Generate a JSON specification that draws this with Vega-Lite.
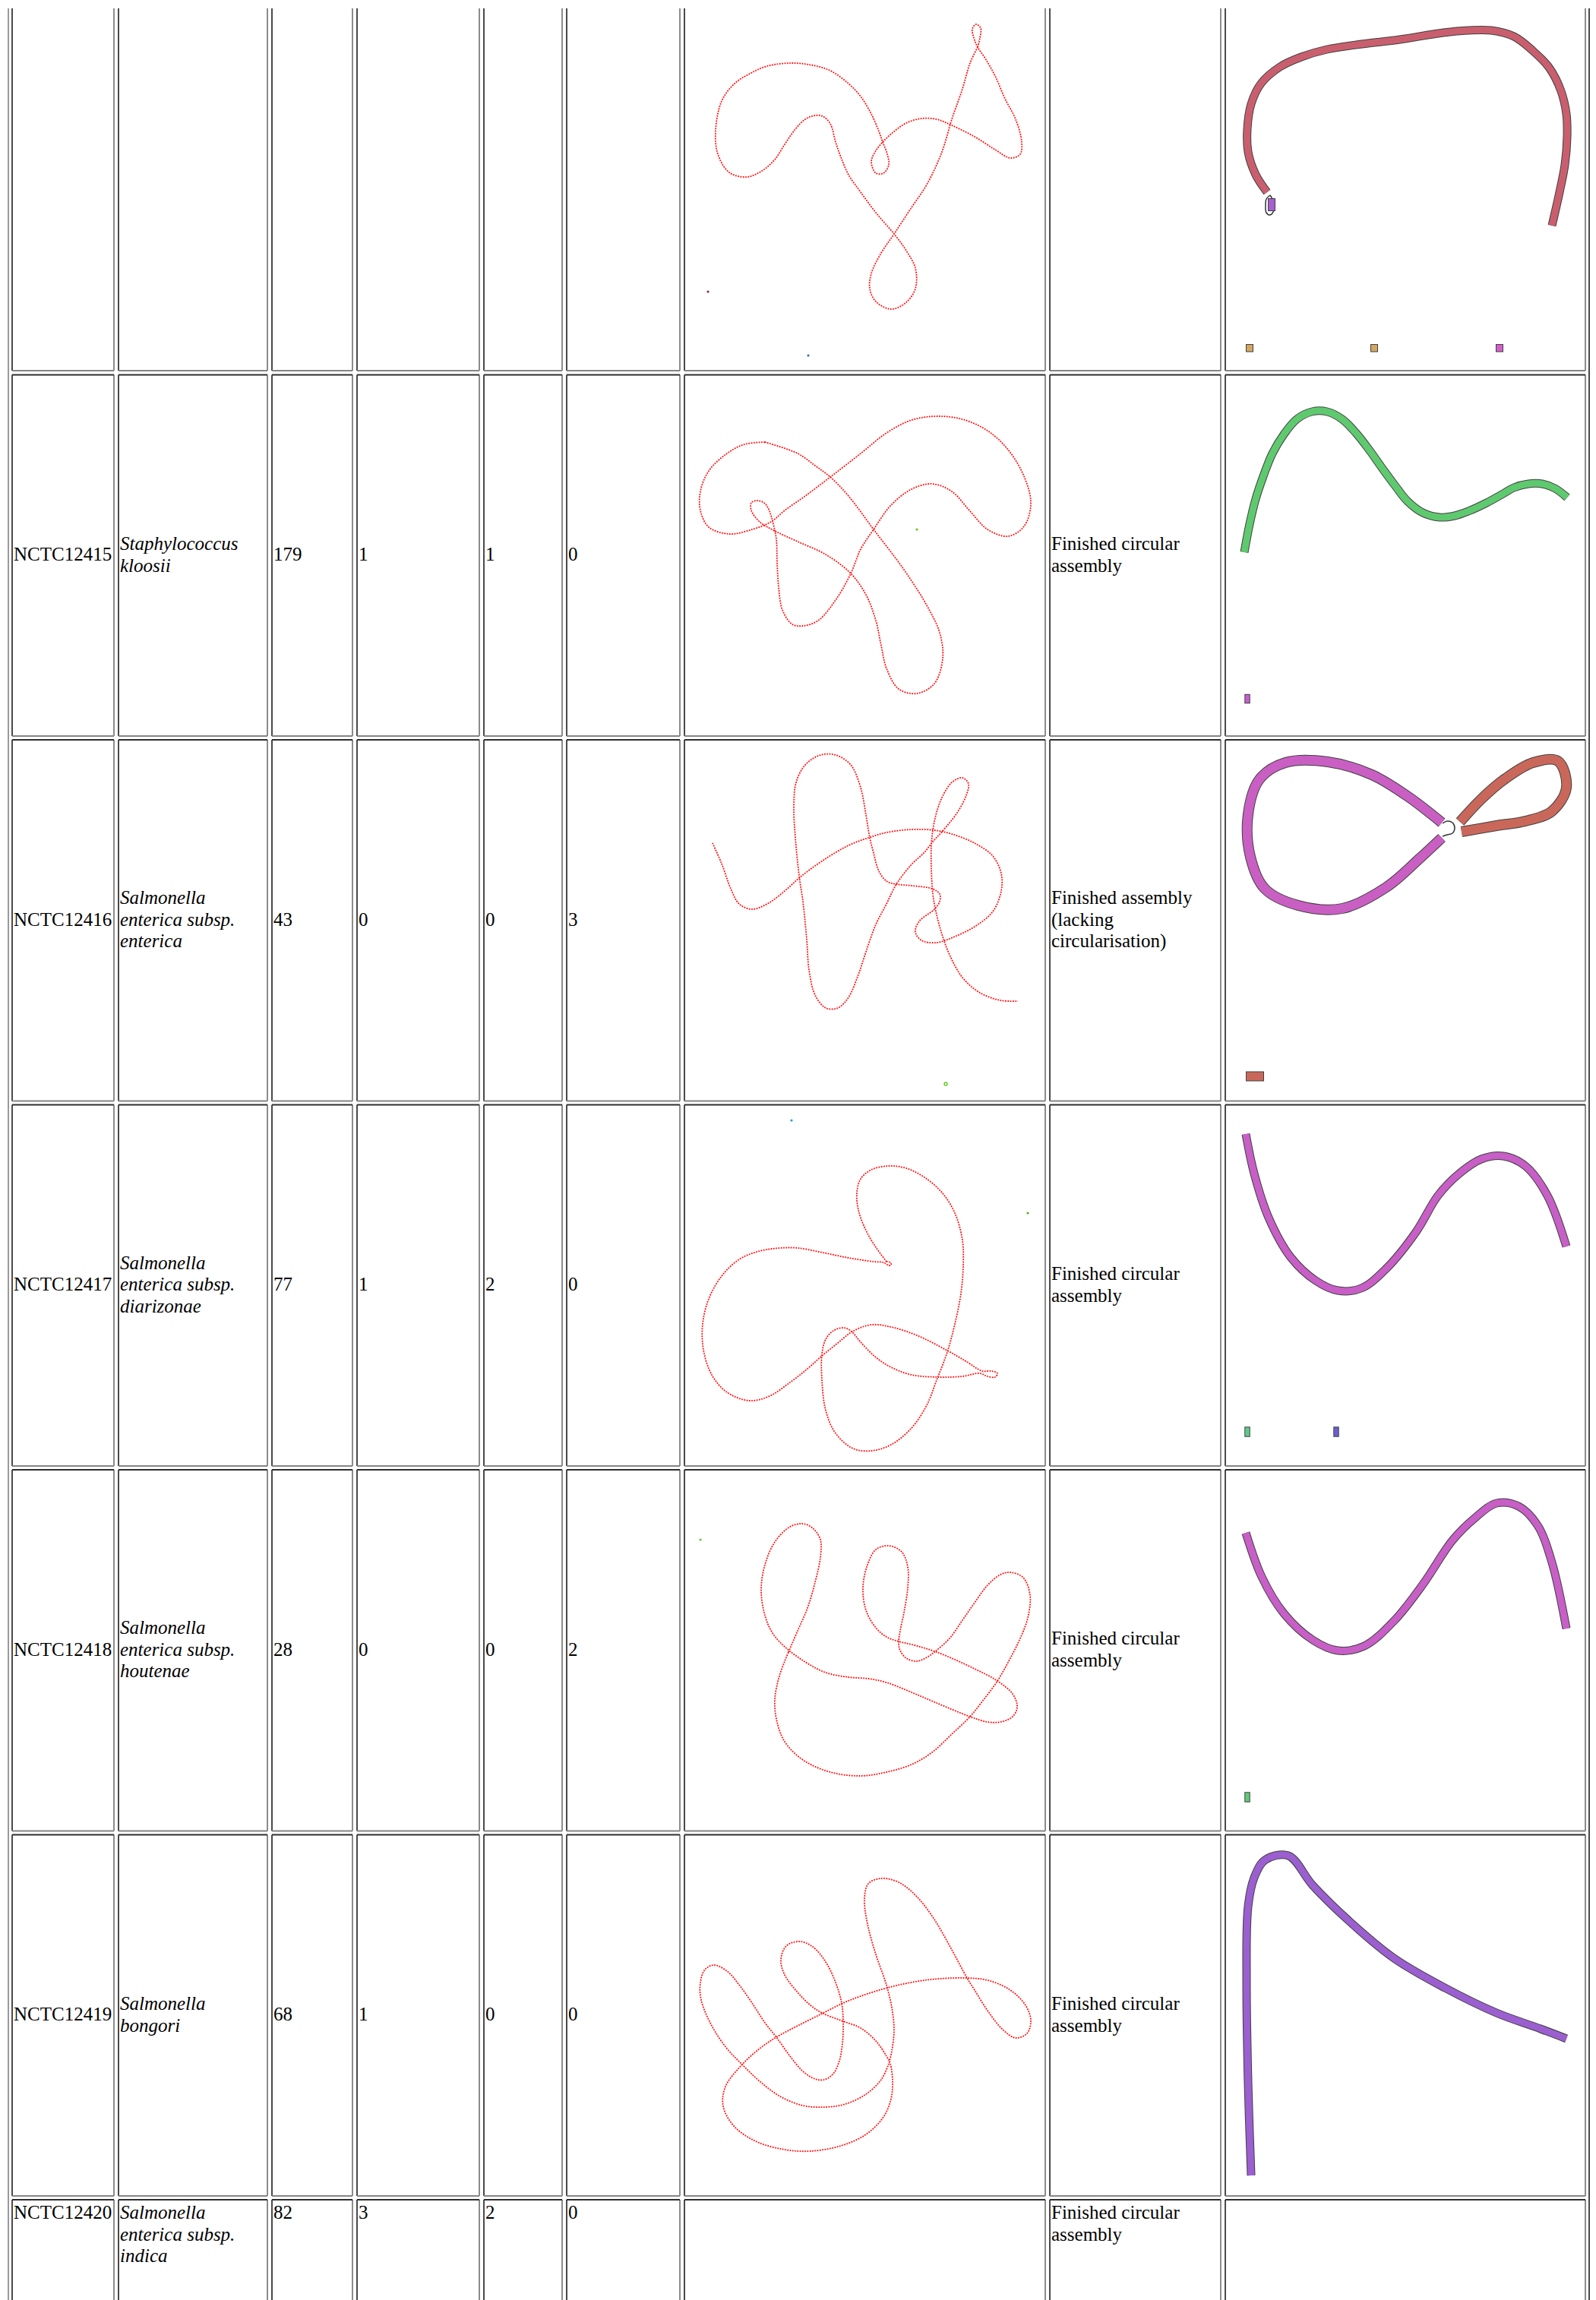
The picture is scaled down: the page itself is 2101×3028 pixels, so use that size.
{
"$schema": "https://vega.github.io/schema/vega-lite/v6.json",
"width": 2101, "height": 3028, "padding": 0, "autosize": {"type": "none"},
"background": "white",
"config": {"view": {"stroke": null}},
"datasets": {
"cells": [
{"xl":1,"xr":2,"yt":0,"yb":1},{"xl":3,"xr":4,"yt":0,"yb":1},{"xl":5,"xr":6,"yt":0,"yb":1},{"xl":7,"xr":8,"yt":0,"yb":1},{"xl":9,"xr":10,"yt":0,"yb":1},{"xl":11,"xr":12,"yt":0,"yb":1},{"xl":13,"xr":14,"yt":0,"yb":1},{"xl":15,"xr":16,"yt":0,"yb":1},{"xl":17,"xr":18,"yt":0,"yb":1},
{"xl":1,"xr":2,"yt":2,"yb":4},{"xl":3,"xr":4,"yt":2,"yb":4},{"xl":5,"xr":6,"yt":2,"yb":4},{"xl":7,"xr":8,"yt":2,"yb":4},{"xl":9,"xr":10,"yt":2,"yb":4},{"xl":11,"xr":12,"yt":2,"yb":4},{"xl":13,"xr":14,"yt":2,"yb":4},{"xl":15,"xr":16,"yt":2,"yb":4},{"xl":17,"xr":18,"yt":2,"yb":4},
{"xl":1,"xr":2,"yt":5,"yb":7},{"xl":3,"xr":4,"yt":5,"yb":7},{"xl":5,"xr":6,"yt":5,"yb":7},{"xl":7,"xr":8,"yt":5,"yb":7},{"xl":9,"xr":10,"yt":5,"yb":7},{"xl":11,"xr":12,"yt":5,"yb":7},{"xl":13,"xr":14,"yt":5,"yb":7},{"xl":15,"xr":16,"yt":5,"yb":7},{"xl":17,"xr":18,"yt":5,"yb":7},
{"xl":1,"xr":2,"yt":8,"yb":10},{"xl":3,"xr":4,"yt":8,"yb":10},{"xl":5,"xr":6,"yt":8,"yb":10},{"xl":7,"xr":8,"yt":8,"yb":10},{"xl":9,"xr":10,"yt":8,"yb":10},{"xl":11,"xr":12,"yt":8,"yb":10},{"xl":13,"xr":14,"yt":8,"yb":10},{"xl":15,"xr":16,"yt":8,"yb":10},{"xl":17,"xr":18,"yt":8,"yb":10},
{"xl":1,"xr":2,"yt":11,"yb":13},{"xl":3,"xr":4,"yt":11,"yb":13},{"xl":5,"xr":6,"yt":11,"yb":13},{"xl":7,"xr":8,"yt":11,"yb":13},{"xl":9,"xr":10,"yt":11,"yb":13},{"xl":11,"xr":12,"yt":11,"yb":13},{"xl":13,"xr":14,"yt":11,"yb":13},{"xl":15,"xr":16,"yt":11,"yb":13},{"xl":17,"xr":18,"yt":11,"yb":13},
{"xl":1,"xr":2,"yt":14,"yb":16},{"xl":3,"xr":4,"yt":14,"yb":16},{"xl":5,"xr":6,"yt":14,"yb":16},{"xl":7,"xr":8,"yt":14,"yb":16},{"xl":9,"xr":10,"yt":14,"yb":16},{"xl":11,"xr":12,"yt":14,"yb":16},{"xl":13,"xr":14,"yt":14,"yb":16},{"xl":15,"xr":16,"yt":14,"yb":16},{"xl":17,"xr":18,"yt":14,"yb":16},
{"xl":1,"xr":2,"yt":17,"yb":19},{"xl":3,"xr":4,"yt":17,"yb":19},{"xl":5,"xr":6,"yt":17,"yb":19},{"xl":7,"xr":8,"yt":17,"yb":19},{"xl":9,"xr":10,"yt":17,"yb":19},{"xl":11,"xr":12,"yt":17,"yb":19},{"xl":13,"xr":14,"yt":17,"yb":19},{"xl":15,"xr":16,"yt":17,"yb":19},{"xl":17,"xr":18,"yt":17,"yb":19}
],
"outer": [{"xi":0,"y0":0,"y1":19,"side":"l"},{"xi":19,"y0":0,"y1":19,"side":"r"}],
"texts": [
{"xi":1,"yi":3,"t":"NCTC12415"},{"xi":3,"yi":3,"t":"Staphylococcus\nkloosii"},{"xi":5,"yi":3,"t":"179"},{"xi":7,"yi":3,"t":"1"},{"xi":9,"yi":3,"t":"1"},{"xi":11,"yi":3,"t":"0"},{"xi":15,"yi":3,"t":"Finished circular\nassembly"},
{"xi":1,"yi":6,"t":"NCTC12416"},{"xi":3,"yi":6,"t":"Salmonella\nenterica subsp.\nenterica"},{"xi":5,"yi":6,"t":"43"},{"xi":7,"yi":6,"t":"0"},{"xi":9,"yi":6,"t":"0"},{"xi":11,"yi":6,"t":"3"},{"xi":15,"yi":6,"t":"Finished assembly\n(lacking\ncircularisation)"},
{"xi":1,"yi":9,"t":"NCTC12417"},{"xi":3,"yi":9,"t":"Salmonella\nenterica subsp.\ndiarizonae"},{"xi":5,"yi":9,"t":"77"},{"xi":7,"yi":9,"t":"1"},{"xi":9,"yi":9,"t":"2"},{"xi":11,"yi":9,"t":"0"},{"xi":15,"yi":9,"t":"Finished circular\nassembly"},
{"xi":1,"yi":12,"t":"NCTC12418"},{"xi":3,"yi":12,"t":"Salmonella\nenterica subsp.\nhoutenae"},{"xi":5,"yi":12,"t":"28"},{"xi":7,"yi":12,"t":"0"},{"xi":9,"yi":12,"t":"0"},{"xi":11,"yi":12,"t":"2"},{"xi":15,"yi":12,"t":"Finished circular\nassembly"},
{"xi":1,"yi":15,"t":"NCTC12419"},{"xi":3,"yi":15,"t":"Salmonella\nbongori"},{"xi":5,"yi":15,"t":"68"},{"xi":7,"yi":15,"t":"1"},{"xi":9,"yi":15,"t":"0"},{"xi":11,"yi":15,"t":"0"},{"xi":15,"yi":15,"t":"Finished circular\nassembly"},
{"xi":1,"yi":18,"t":"NCTC12420"},{"xi":3,"yi":18,"t":"Salmonella\nenterica subsp.\nindica"},{"xi":5,"yi":18,"t":"82"},{"xi":7,"yi":18,"t":"3"},{"xi":9,"yi":18,"t":"2"},{"xi":11,"yi":18,"t":"0"},{"xi":15,"yi":18,"t":"Finished circular\nassembly"}
],
"curves": [
{"g":"a0","x":1287,"y":62},{"g":"a0","x":1277,"y":83},{"g":"a0","x":1267,"y":117},{"g":"a0","x":1253,"y":157},{"g":"a0","x":1240,"y":200},{"g":"a0","x":1220,"y":243},{"g":"a0","x":1200,"y":273},{"g":"a0","x":1177,"y":308},{"g":"a0","x":1160,"y":333},{"g":"a0","x":1147,"y":360},{"g":"a0","x":1145,"y":380},{"g":"a0","x":1153,"y":397},{"g":"a0","x":1173,"y":407},{"g":"a0","x":1193,"y":398},{"g":"a0","x":1205,"y":380},{"g":"a0","x":1205,"y":353},{"g":"a0","x":1193,"y":330},{"g":"a0","x":1177,"y":308},{"g":"a0","x":1153,"y":280},{"g":"a0","x":1133,"y":253},{"g":"a0","x":1117,"y":230},{"g":"a0","x":1107,"y":207},{"g":"a0","x":1100,"y":187},{"g":"a0","x":1093,"y":163},{"g":"a0","x":1083,"y":153},{"g":"a0","x":1073,"y":152},{"g":"a0","x":1060,"y":157},{"g":"a0","x":1047,"y":170},{"g":"a0","x":1033,"y":190},{"g":"a0","x":1020,"y":210},{"g":"a0","x":1003,"y":225},{"g":"a0","x":983,"y":233},{"g":"a0","x":960,"y":227},{"g":"a0","x":945,"y":203},{"g":"a0","x":942,"y":173},{"g":"a0","x":950,"y":133},{"g":"a0","x":967,"y":110},{"g":"a0","x":987,"y":97},{"g":"a0","x":1010,"y":87},{"g":"a0","x":1043,"y":83},{"g":"a0","x":1070,"y":86},{"g":"a0","x":1093,"y":93},{"g":"a0","x":1117,"y":110},{"g":"a0","x":1133,"y":127},{"g":"a0","x":1147,"y":150},{"g":"a0","x":1157,"y":173},{"g":"a0","x":1162,"y":187},{"g":"a0","x":1168,"y":203},{"g":"a0","x":1170,"y":217},{"g":"a0","x":1163,"y":228},{"g":"a0","x":1153,"y":228},{"g":"a0","x":1147,"y":213},{"g":"a0","x":1152,"y":200},{"g":"a0","x":1162,"y":187},{"g":"a0","x":1177,"y":173},{"g":"a0","x":1193,"y":162},{"g":"a0","x":1213,"y":156},{"g":"a0","x":1233,"y":157},{"g":"a0","x":1253,"y":165},{"g":"a0","x":1283,"y":180},{"g":"a0","x":1310,"y":197},{"g":"a0","x":1330,"y":208},{"g":"a0","x":1343,"y":203},{"g":"a0","x":1345,"y":187},{"g":"a0","x":1337,"y":157},{"g":"a0","x":1323,"y":130},{"g":"a0","x":1310,"y":100},{"g":"a0","x":1297,"y":77},{"g":"a0","x":1287,"y":62},{"g":"a0","x":1282,"y":50},{"g":"a0","x":1280,"y":38},{"g":"a0","x":1285,"y":32},{"g":"a0","x":1291,"y":37},{"g":"a0","x":1290,"y":50},{"g":"a0","x":1287,"y":62},
{"g":"a1","x":1007,"y":582},{"g":"a1","x":1050,"y":597},{"g":"a1","x":1073,"y":613},{"g":"a1","x":1093,"y":628},{"g":"a1","x":1117,"y":653},{"g":"a1","x":1150,"y":697},{"g":"a1","x":1190,"y":750},{"g":"a1","x":1220,"y":797},{"g":"a1","x":1237,"y":833},{"g":"a1","x":1241,"y":867},{"g":"a1","x":1230,"y":900},{"g":"a1","x":1207,"y":913},{"g":"a1","x":1183,"y":907},{"g":"a1","x":1167,"y":880},{"g":"a1","x":1160,"y":850},{"g":"a1","x":1153,"y":817},{"g":"a1","x":1140,"y":783},{"g":"a1","x":1120,"y":755},{"g":"a1","x":1087,"y":730},{"g":"a1","x":1050,"y":713},{"g":"a1","x":1020,"y":699},{"g":"a1","x":1000,"y":687},{"g":"a1","x":989,"y":672},{"g":"a1","x":989,"y":662},{"g":"a1","x":997,"y":659},{"g":"a1","x":1007,"y":663},{"g":"a1","x":1013,"y":673},{"g":"a1","x":1018,"y":690},{"g":"a1","x":1022,"y":710},{"g":"a1","x":1023,"y":740},{"g":"a1","x":1025,"y":773},{"g":"a1","x":1030,"y":803},{"g":"a1","x":1043,"y":822},{"g":"a1","x":1057,"y":824},{"g":"a1","x":1077,"y":817},{"g":"a1","x":1100,"y":790},{"g":"a1","x":1120,"y":755},{"g":"a1","x":1133,"y":723},{"g":"a1","x":1150,"y":697},{"g":"a1","x":1173,"y":665},{"g":"a1","x":1200,"y":644},{"g":"a1","x":1227,"y":637},{"g":"a1","x":1253,"y":647},{"g":"a1","x":1277,"y":673},{"g":"a1","x":1300,"y":697},{"g":"a1","x":1327,"y":706},{"g":"a1","x":1348,"y":693},{"g":"a1","x":1357,"y":663},{"g":"a1","x":1348,"y":627},{"g":"a1","x":1327,"y":592},{"g":"a1","x":1300,"y":567},{"g":"a1","x":1267,"y":552},{"g":"a1","x":1233,"y":548},{"g":"a1","x":1200,"y":553},{"g":"a1","x":1167,"y":570},{"g":"a1","x":1133,"y":597},{"g":"a1","x":1093,"y":628},{"g":"a1","x":1060,"y":653},{"g":"a1","x":1033,"y":672},{"g":"a1","x":1015,"y":687},{"g":"a1","x":987,"y":698},{"g":"a1","x":960,"y":703},{"g":"a1","x":933,"y":694},{"g":"a1","x":922,"y":672},{"g":"a1","x":922,"y":647},{"g":"a1","x":933,"y":620},{"g":"a1","x":957,"y":597},{"g":"a1","x":980,"y":585},{"g":"a1","x":1007,"y":582},
{"g":"a2","x":938,"y":1110},{"g":"a2","x":950,"y":1137},{"g":"a2","x":962,"y":1170},{"g":"a2","x":973,"y":1190},{"g":"a2","x":990,"y":1197},{"g":"a2","x":1010,"y":1190},{"g":"a2","x":1033,"y":1173},{"g":"a2","x":1053,"y":1155},{"g":"a2","x":1083,"y":1133},{"g":"a2","x":1117,"y":1113},{"g":"a2","x":1143,"y":1103},{"g":"a2","x":1167,"y":1096},{"g":"a2","x":1200,"y":1092},{"g":"a2","x":1230,"y":1093},{"g":"a2","x":1253,"y":1098},{"g":"a2","x":1283,"y":1110},{"g":"a2","x":1307,"y":1127},{"g":"a2","x":1318,"y":1150},{"g":"a2","x":1318,"y":1173},{"g":"a2","x":1307,"y":1200},{"g":"a2","x":1283,"y":1220},{"g":"a2","x":1257,"y":1233},{"g":"a2","x":1233,"y":1241},{"g":"a2","x":1213,"y":1238},{"g":"a2","x":1205,"y":1227},{"g":"a2","x":1210,"y":1213},{"g":"a2","x":1230,"y":1197},{"g":"a2","x":1237,"y":1187},{"g":"a2","x":1237,"y":1177},{"g":"a2","x":1227,"y":1170},{"g":"a2","x":1200,"y":1166},{"g":"a2","x":1180,"y":1164},{"g":"a2","x":1167,"y":1160},{"g":"a2","x":1157,"y":1147},{"g":"a2","x":1150,"y":1123},{"g":"a2","x":1145,"y":1103},{"g":"a2","x":1140,"y":1073},{"g":"a2","x":1133,"y":1037},{"g":"a2","x":1120,"y":1007},{"g":"a2","x":1100,"y":994},{"g":"a2","x":1080,"y":994},{"g":"a2","x":1060,"y":1007},{"g":"a2","x":1048,"y":1030},{"g":"a2","x":1045,"y":1063},{"g":"a2","x":1047,"y":1103},{"g":"a2","x":1052,"y":1153},{"g":"a2","x":1057,"y":1187},{"g":"a2","x":1062,"y":1237},{"g":"a2","x":1065,"y":1277},{"g":"a2","x":1073,"y":1310},{"g":"a2","x":1087,"y":1327},{"g":"a2","x":1103,"y":1327},{"g":"a2","x":1117,"y":1313},{"g":"a2","x":1130,"y":1283},{"g":"a2","x":1140,"y":1253},{"g":"a2","x":1153,"y":1217},{"g":"a2","x":1167,"y":1190},{"g":"a2","x":1180,"y":1164},{"g":"a2","x":1200,"y":1138},{"g":"a2","x":1217,"y":1122},{"g":"a2","x":1228,"y":1108},{"g":"a2","x":1240,"y":1095},{"g":"a2","x":1260,"y":1070},{"g":"a2","x":1272,"y":1047},{"g":"a2","x":1275,"y":1032},{"g":"a2","x":1267,"y":1024},{"g":"a2","x":1253,"y":1030},{"g":"a2","x":1240,"y":1050},{"g":"a2","x":1232,"y":1073},{"g":"a2","x":1228,"y":1093},{"g":"a2","x":1226,"y":1113},{"g":"a2","x":1226,"y":1143},{"g":"a2","x":1228,"y":1177},{"g":"a2","x":1232,"y":1200},{"g":"a2","x":1240,"y":1230},{"g":"a2","x":1250,"y":1257},{"g":"a2","x":1267,"y":1287},{"g":"a2","x":1290,"y":1307},{"g":"a2","x":1317,"y":1317},{"g":"a2","x":1340,"y":1318},
{"g":"a3","x":1167,"y":1661},{"g":"a3","x":1172,"y":1662},{"g":"a3","x":1173,"y":1665},{"g":"a3","x":1170,"y":1666},{"g":"a3","x":1163,"y":1662},{"g":"a3","x":1150,"y":1661},{"g":"a3","x":1117,"y":1656},{"g":"a3","x":1083,"y":1649},{"g":"a3","x":1050,"y":1643},{"g":"a3","x":1027,"y":1643},{"g":"a3","x":1000,"y":1647},{"g":"a3","x":973,"y":1658},{"g":"a3","x":950,"y":1680},{"g":"a3","x":933,"y":1710},{"g":"a3","x":925,"y":1743},{"g":"a3","x":926,"y":1777},{"g":"a3","x":937,"y":1810},{"g":"a3","x":957,"y":1833},{"g":"a3","x":987,"y":1844},{"g":"a3","x":1013,"y":1838},{"g":"a3","x":1040,"y":1820},{"g":"a3","x":1063,"y":1802},{"g":"a3","x":1082,"y":1785},{"g":"a3","x":1103,"y":1768},{"g":"a3","x":1122,"y":1753},{"g":"a3","x":1147,"y":1744},{"g":"a3","x":1173,"y":1747},{"g":"a3","x":1207,"y":1758},{"g":"a3","x":1247,"y":1778},{"g":"a3","x":1273,"y":1793},{"g":"a3","x":1293,"y":1805},{"g":"a3","x":1305,"y":1805},{"g":"a3","x":1313,"y":1808},{"g":"a3","x":1310,"y":1813},{"g":"a3","x":1300,"y":1812},{"g":"a3","x":1290,"y":1808},{"g":"a3","x":1267,"y":1812},{"g":"a3","x":1237,"y":1813},{"g":"a3","x":1200,"y":1810},{"g":"a3","x":1173,"y":1800},{"g":"a3","x":1153,"y":1787},{"g":"a3","x":1133,"y":1767},{"g":"a3","x":1120,"y":1752},{"g":"a3","x":1110,"y":1748},{"g":"a3","x":1097,"y":1752},{"g":"a3","x":1087,"y":1763},{"g":"a3","x":1082,"y":1783},{"g":"a3","x":1082,"y":1817},{"g":"a3","x":1087,"y":1857},{"g":"a3","x":1100,"y":1887},{"g":"a3","x":1123,"y":1907},{"g":"a3","x":1147,"y":1910},{"g":"a3","x":1173,"y":1902},{"g":"a3","x":1200,"y":1880},{"g":"a3","x":1220,"y":1850},{"g":"a3","x":1233,"y":1817},{"g":"a3","x":1247,"y":1780},{"g":"a3","x":1257,"y":1743},{"g":"a3","x":1265,"y":1703},{"g":"a3","x":1268,"y":1667},{"g":"a3","x":1267,"y":1633},{"g":"a3","x":1257,"y":1597},{"g":"a3","x":1240,"y":1570},{"g":"a3","x":1217,"y":1550},{"g":"a3","x":1193,"y":1538},{"g":"a3","x":1170,"y":1535},{"g":"a3","x":1147,"y":1540},{"g":"a3","x":1133,"y":1552},{"g":"a3","x":1128,"y":1570},{"g":"a3","x":1130,"y":1593},{"g":"a3","x":1140,"y":1620},{"g":"a3","x":1153,"y":1642},{"g":"a3","x":1167,"y":1661},
{"g":"a4","x":1038,"y":2175},{"g":"a4","x":1050,"y":2147},{"g":"a4","x":1063,"y":2117},{"g":"a4","x":1073,"y":2083},{"g":"a4","x":1080,"y":2050},{"g":"a4","x":1080,"y":2027},{"g":"a4","x":1070,"y":2012},{"g":"a4","x":1057,"y":2006},{"g":"a4","x":1040,"y":2010},{"g":"a4","x":1020,"y":2030},{"g":"a4","x":1007,"y":2060},{"g":"a4","x":1002,"y":2093},{"g":"a4","x":1007,"y":2127},{"g":"a4","x":1017,"y":2150},{"g":"a4","x":1033,"y":2168},{"g":"a4","x":1060,"y":2188},{"g":"a4","x":1087,"y":2202},{"g":"a4","x":1117,"y":2208},{"g":"a4","x":1143,"y":2210},{"g":"a4","x":1167,"y":2215},{"g":"a4","x":1200,"y":2228},{"g":"a4","x":1233,"y":2242},{"g":"a4","x":1277,"y":2260},{"g":"a4","x":1300,"y":2267},{"g":"a4","x":1317,"y":2267},{"g":"a4","x":1333,"y":2260},{"g":"a4","x":1339,"y":2247},{"g":"a4","x":1333,"y":2230},{"g":"a4","x":1313,"y":2213},{"g":"a4","x":1283,"y":2197},{"g":"a4","x":1233,"y":2175},{"g":"a4","x":1200,"y":2165},{"g":"a4","x":1183,"y":2161},{"g":"a4","x":1167,"y":2155},{"g":"a4","x":1153,"y":2143},{"g":"a4","x":1140,"y":2120},{"g":"a4","x":1136,"y":2090},{"g":"a4","x":1142,"y":2060},{"g":"a4","x":1153,"y":2040},{"g":"a4","x":1170,"y":2035},{"g":"a4","x":1187,"y":2043},{"g":"a4","x":1195,"y":2063},{"g":"a4","x":1195,"y":2090},{"g":"a4","x":1190,"y":2123},{"g":"a4","x":1185,"y":2147},{"g":"a4","x":1183,"y":2163},{"g":"a4","x":1185,"y":2173},{"g":"a4","x":1193,"y":2183},{"g":"a4","x":1207,"y":2187},{"g":"a4","x":1220,"y":2182},{"g":"a4","x":1230,"y":2175},{"g":"a4","x":1250,"y":2157},{"g":"a4","x":1267,"y":2133},{"g":"a4","x":1283,"y":2110},{"g":"a4","x":1300,"y":2087},{"g":"a4","x":1317,"y":2073},{"g":"a4","x":1330,"y":2070},{"g":"a4","x":1347,"y":2077},{"g":"a4","x":1356,"y":2100},{"g":"a4","x":1353,"y":2130},{"g":"a4","x":1343,"y":2157},{"g":"a4","x":1330,"y":2183},{"g":"a4","x":1313,"y":2213},{"g":"a4","x":1293,"y":2240},{"g":"a4","x":1277,"y":2260},{"g":"a4","x":1253,"y":2283},{"g":"a4","x":1227,"y":2307},{"g":"a4","x":1200,"y":2323},{"g":"a4","x":1167,"y":2333},{"g":"a4","x":1133,"y":2338},{"g":"a4","x":1093,"y":2333},{"g":"a4","x":1057,"y":2317},{"g":"a4","x":1033,"y":2293},{"g":"a4","x":1022,"y":2263},{"g":"a4","x":1020,"y":2237},{"g":"a4","x":1025,"y":2210},{"g":"a4","x":1033,"y":2187},{"g":"a4","x":1038,"y":2175},
{"g":"a5","x":1170,"y":2717},{"g":"a5","x":1160,"y":2738},{"g":"a5","x":1140,"y":2757},{"g":"a5","x":1113,"y":2770},{"g":"a5","x":1087,"y":2774},{"g":"a5","x":1057,"y":2772},{"g":"a5","x":1027,"y":2760},{"g":"a5","x":1000,"y":2740},{"g":"a5","x":977,"y":2718},{"g":"a5","x":957,"y":2697},{"g":"a5","x":937,"y":2667},{"g":"a5","x":923,"y":2633},{"g":"a5","x":922,"y":2610},{"g":"a5","x":928,"y":2593},{"g":"a5","x":940,"y":2587},{"g":"a5","x":957,"y":2595},{"g":"a5","x":973,"y":2613},{"g":"a5","x":990,"y":2637},{"g":"a5","x":1007,"y":2663},{"g":"a5","x":1022,"y":2682},{"g":"a5","x":1040,"y":2707},{"g":"a5","x":1057,"y":2727},{"g":"a5","x":1073,"y":2737},{"g":"a5","x":1085,"y":2738},{"g":"a5","x":1097,"y":2730},{"g":"a5","x":1105,"y":2713},{"g":"a5","x":1109,"y":2690},{"g":"a5","x":1110,"y":2663},{"g":"a5","x":1108,"y":2637},{"g":"a5","x":1100,"y":2610},{"g":"a5","x":1087,"y":2583},{"g":"a5","x":1070,"y":2563},{"g":"a5","x":1052,"y":2556},{"g":"a5","x":1035,"y":2562},{"g":"a5","x":1028,"y":2580},{"g":"a5","x":1033,"y":2600},{"g":"a5","x":1050,"y":2623},{"g":"a5","x":1067,"y":2640},{"g":"a5","x":1082,"y":2650},{"g":"a5","x":1107,"y":2660},{"g":"a5","x":1133,"y":2670},{"g":"a5","x":1153,"y":2687},{"g":"a5","x":1167,"y":2707},{"g":"a5","x":1172,"y":2717},{"g":"a5","x":1175,"y":2740},{"g":"a5","x":1173,"y":2763},{"g":"a5","x":1163,"y":2787},{"g":"a5","x":1140,"y":2810},{"g":"a5","x":1107,"y":2825},{"g":"a5","x":1067,"y":2832},{"g":"a5","x":1033,"y":2830},{"g":"a5","x":997,"y":2820},{"g":"a5","x":967,"y":2800},{"g":"a5","x":952,"y":2773},{"g":"a5","x":955,"y":2747},{"g":"a5","x":977,"y":2718},{"g":"a5","x":1000,"y":2697},{"g":"a5","x":1022,"y":2682},{"g":"a5","x":1050,"y":2667},{"g":"a5","x":1082,"y":2651},{"g":"a5","x":1110,"y":2637},{"g":"a5","x":1133,"y":2628},{"g":"a5","x":1168,"y":2617},{"g":"a5","x":1217,"y":2607},{"g":"a5","x":1267,"y":2604},{"g":"a5","x":1300,"y":2607},{"g":"a5","x":1330,"y":2620},{"g":"a5","x":1350,"y":2640},{"g":"a5","x":1357,"y":2660},{"g":"a5","x":1352,"y":2677},{"g":"a5","x":1337,"y":2683},{"g":"a5","x":1320,"y":2672},{"g":"a5","x":1300,"y":2647},{"g":"a5","x":1283,"y":2620},{"g":"a5","x":1273,"y":2604},{"g":"a5","x":1253,"y":2567},{"g":"a5","x":1230,"y":2527},{"g":"a5","x":1207,"y":2497},{"g":"a5","x":1183,"y":2478},{"g":"a5","x":1160,"y":2473},{"g":"a5","x":1143,"y":2480},{"g":"a5","x":1138,"y":2500},{"g":"a5","x":1142,"y":2533},{"g":"a5","x":1153,"y":2573},{"g":"a5","x":1165,"y":2607},{"g":"a5","x":1168,"y":2617},{"g":"a5","x":1174,"y":2643},{"g":"a5","x":1177,"y":2673},{"g":"a5","x":1174,"y":2700},{"g":"a5","x":1170,"y":2717}
],
"ribbons": [
{"g":"k0","x":1672,"y":257},{"g":"k0","x":1667,"y":262},{"g":"k0","x":1666,"y":270},{"g":"k0","x":1667,"y":280},{"g":"k0","x":1672,"y":283},{"g":"k0","x":1676,"y":279},{"g":"k0","x":1677,"y":270},{"g":"k0","x":1675,"y":262},{"g":"k0","x":1672,"y":257},
{"g":"k2a","x":1899,"y":1084},{"g":"k2a","x":1905,"y":1081},{"g":"k2a","x":1912,"y":1083},{"g":"k2a","x":1915,"y":1090},{"g":"k2a","x":1912,"y":1097},{"g":"k2a","x":1905,"y":1099},{"g":"k2a","x":1899,"y":1101},
{"g":"b0","x":1668,"y":253},{"g":"b0","x":1653,"y":230},{"g":"b0","x":1643,"y":200},{"g":"b0","x":1642,"y":170},{"g":"b0","x":1647,"y":137},{"g":"b0","x":1660,"y":110},{"g":"b0","x":1685,"y":88},{"g":"b0","x":1713,"y":75},{"g":"b0","x":1747,"y":65},{"g":"b0","x":1793,"y":58},{"g":"b0","x":1843,"y":52},{"g":"b0","x":1900,"y":43},{"g":"b0","x":1933,"y":40},{"g":"b0","x":1963,"y":40},{"g":"b0","x":1993,"y":48},{"g":"b0","x":2018,"y":67},{"g":"b0","x":2040,"y":90},{"g":"b0","x":2055,"y":120},{"g":"b0","x":2062,"y":150},{"g":"b0","x":2063,"y":180},{"g":"b0","x":2060,"y":217},{"g":"b0","x":2053,"y":253},{"g":"b0","x":2043,"y":297},
{"g":"b0p","x":1674,"y":266},{"g":"b0p","x":1674,"y":273},
{"g":"b0s1","x":1645,"y":458},{"g":"b0s1","x":1645,"y":458.5},
{"g":"b0s2","x":1809,"y":458},{"g":"b0s2","x":1809,"y":458.5},
{"g":"b0s3","x":1974,"y":458},{"g":"b0s3","x":1974,"y":458.5},
{"g":"b1","x":1638,"y":727},{"g":"b1","x":1645,"y":690},{"g":"b1","x":1653,"y":657},{"g":"b1","x":1663,"y":627},{"g":"b1","x":1675,"y":597},{"g":"b1","x":1690,"y":572},{"g":"b1","x":1707,"y":552},{"g":"b1","x":1727,"y":542},{"g":"b1","x":1747,"y":542},{"g":"b1","x":1767,"y":552},{"g":"b1","x":1785,"y":570},{"g":"b1","x":1803,"y":593},{"g":"b1","x":1820,"y":617},{"g":"b1","x":1837,"y":640},{"g":"b1","x":1853,"y":660},{"g":"b1","x":1873,"y":675},{"g":"b1","x":1895,"y":681},{"g":"b1","x":1915,"y":679},{"g":"b1","x":1933,"y":673},{"g":"b1","x":1957,"y":662},{"g":"b1","x":1977,"y":651},{"g":"b1","x":1993,"y":642},{"g":"b1","x":2012,"y":637},{"g":"b1","x":2030,"y":637},{"g":"b1","x":2047,"y":643},{"g":"b1","x":2063,"y":655},
{"g":"b1s","x":1642,"y":917.5},{"g":"b1s","x":1642,"y":922.5},
{"g":"b2m","x":1898,"y":1083},{"g":"b2m","x":1854,"y":1049},{"g":"b2m","x":1806,"y":1020},{"g":"b2m","x":1748,"y":1003},{"g":"b2m","x":1692,"y":1004},{"g":"b2m","x":1658,"y":1026},{"g":"b2m","x":1643,"y":1072},{"g":"b2m","x":1646,"y":1128},{"g":"b2m","x":1665,"y":1170},{"g":"b2m","x":1709,"y":1192},{"g":"b2m","x":1767,"y":1196},{"g":"b2m","x":1825,"y":1168},{"g":"b2m","x":1869,"y":1130},{"g":"b2m","x":1898,"y":1103},
{"g":"b2b","x":1922,"y":1082},{"g":"b2b","x":1950,"y":1052},{"g":"b2b","x":1979,"y":1027},{"g":"b2b","x":2018,"y":1004},{"g":"b2b","x":2051,"y":1002},{"g":"b2b","x":2062,"y":1037},{"g":"b2b","x":2043,"y":1068},{"g":"b2b","x":2008,"y":1081},{"g":"b2b","x":1970,"y":1087},{"g":"b2b","x":1924,"y":1095},
{"g":"b2s","x":1646.5,"y":1417},{"g":"b2s","x":1657.5,"y":1417},
{"g":"b3","x":1640,"y":1493},{"g":"b3","x":1651,"y":1545},{"g":"b3","x":1670,"y":1603},{"g":"b3","x":1699,"y":1655},{"g":"b3","x":1732,"y":1686},{"g":"b3","x":1761,"y":1699},{"g":"b3","x":1792,"y":1696},{"g":"b3","x":1825,"y":1670},{"g":"b3","x":1864,"y":1622},{"g":"b3","x":1893,"y":1574},{"g":"b3","x":1921,"y":1545},{"g":"b3","x":1950,"y":1526},{"g":"b3","x":1979,"y":1522},{"g":"b3","x":2008,"y":1535},{"g":"b3","x":2037,"y":1574},{"g":"b3","x":2062,"y":1641},
{"g":"b3s1","x":1642,"y":1882},{"g":"b3s1","x":1642,"y":1888},
{"g":"b3s2","x":1759,"y":1882},{"g":"b3s2","x":1759,"y":1888},
{"g":"b4","x":1640,"y":2018},{"g":"b4","x":1661,"y":2076},{"g":"b4","x":1690,"y":2124},{"g":"b4","x":1728,"y":2159},{"g":"b4","x":1761,"y":2173},{"g":"b4","x":1796,"y":2167},{"g":"b4","x":1835,"y":2134},{"g":"b4","x":1873,"y":2086},{"g":"b4","x":1912,"y":2028},{"g":"b4","x":1941,"y":1999},{"g":"b4","x":1970,"y":1979},{"g":"b4","x":1999,"y":1983},{"g":"b4","x":2024,"y":2008},{"g":"b4","x":2043,"y":2057},{"g":"b4","x":2062,"y":2144},
{"g":"b4s","x":1642,"y":2363},{"g":"b4s","x":1642,"y":2369},
{"g":"b5","x":1647,"y":2864},{"g":"b5","x":1643,"y":2742},{"g":"b5","x":1641,"y":2607},{"g":"b5","x":1643,"y":2510},{"g":"b5","x":1651,"y":2472},{"g":"b5","x":1665,"y":2449},{"g":"b5","x":1696,"y":2443},{"g":"b5","x":1728,"y":2482},{"g":"b5","x":1777,"y":2530},{"g":"b5","x":1835,"y":2578},{"g":"b5","x":1902,"y":2617},{"g":"b5","x":1970,"y":2650},{"g":"b5","x":2028,"y":2671},{"g":"b5","x":2062,"y":2684}
],
"dots": [
{"g":"d0a","x":932,"y":384},{"g":"d0b","x":1064,"y":468},{"g":"d1","x":1207,"y":697},{"g":"d2","x":1245,"y":1427},{"g":"d3a","x":1042,"y":1475},{"g":"d3b","x":1353,"y":1597},{"g":"d4","x":922,"y":2027}
]
},
"layer": [
{
"layer": [
{"data": {"name": "cells"},
 "mark": {"type": "rule", "color": "#4a4a4a", "strokeWidth": 2},
 "encoding": {
  "x": {"field": "xl", "type": "quantitative", "axis": null, "scale": {"domain": [0,1,2,3,4,5,6,7,8,9,10,11,12,13,14,15,16,17,18,19], "range": [11,16,150,156,352,358,464,470,631,637,740,746,895,901,1376,1382,1607,1613,2087,2092], "zero": false, "nice": false}},
  "y": {"field": "yt", "type": "quantitative", "axis": null, "scale": {"domain": [0,1,2,3,4,5,6,7,8,9,10,11,12,13,14,15,16,17,18,19], "range": [11,488,493.5,730.3,969,974,1210.8,1449.5,1454.5,1691.3,1930,1935,2171.8,2410.5,2415.5,2652.3,2891,2896,2899,3100], "zero": false, "nice": false}},
  "y2": {"field": "yb"}}},
{"data": {"name": "cells"},
 "mark": {"type": "rule", "color": "#8c8c8c", "strokeWidth": 2},
 "encoding": {"x": {"field": "xr", "type": "quantitative", "axis": null}, "y": {"field": "yt", "type": "quantitative", "axis": null}, "y2": {"field": "yb"}}},
{"data": {"name": "cells"},
 "mark": {"type": "rule", "color": "#858585", "strokeWidth": 2},
 "encoding": {"x": {"field": "xl", "type": "quantitative", "axis": null}, "x2": {"field": "xr"}, "y": {"field": "yb", "type": "quantitative", "axis": null}}},
{"data": {"name": "cells"},
 "transform": [{"filter": "datum.yt > 0"}],
 "mark": {"type": "rule", "color": "#2e2e2e", "strokeWidth": 2},
 "encoding": {"x": {"field": "xl", "type": "quantitative", "axis": null}, "x2": {"field": "xr"}, "y": {"field": "yt", "type": "quantitative", "axis": null}}},
{"data": {"name": "outer"},
 "transform": [{"filter": "datum.side == 'l'"}],
 "mark": {"type": "rule", "color": "#9a9a9a", "strokeWidth": 2},
 "encoding": {"x": {"field": "xi", "type": "quantitative", "axis": null}, "y": {"field": "y0", "type": "quantitative", "axis": null}, "y2": {"field": "y1"}}},
{"data": {"name": "outer"},
 "transform": [{"filter": "datum.side == 'r'"}],
 "mark": {"type": "rule", "color": "#4a4a4a", "strokeWidth": 2},
 "encoding": {"x": {"field": "xi", "type": "quantitative", "axis": null}, "y": {"field": "y0", "type": "quantitative", "axis": null}, "y2": {"field": "y1"}}},
{"data": {"name": "texts"},
 "transform": [{"filter": "datum.yi != 18 && datum.xi != 3 && length(split(datum.t, '\\n')) == 1"}],
 "mark": {"type": "text", "align": "left", "baseline": "middle", "dx": 2, "dy": 0, "font": "Liberation Serif", "fontSize": 25, "lineHeight": 28.7, "lineBreak": "\n", "color": "#000000"},
 "encoding": {"x": {"field": "xi", "type": "quantitative", "axis": null}, "y": {"field": "yi", "type": "quantitative", "axis": null}, "text": {"field": "t", "type": "nominal"}}},
{"data": {"name": "texts"},
 "transform": [{"filter": "datum.yi != 18 && datum.xi != 3 && length(split(datum.t, '\\n')) == 2"}],
 "mark": {"type": "text", "align": "left", "baseline": "middle", "dx": 2, "dy": -14.35, "font": "Liberation Serif", "fontSize": 25, "lineHeight": 28.7, "lineBreak": "\n", "color": "#000000"},
 "encoding": {"x": {"field": "xi", "type": "quantitative", "axis": null}, "y": {"field": "yi", "type": "quantitative", "axis": null}, "text": {"field": "t", "type": "nominal"}}},
{"data": {"name": "texts"},
 "transform": [{"filter": "datum.yi != 18 && datum.xi != 3 && length(split(datum.t, '\\n')) == 3"}],
 "mark": {"type": "text", "align": "left", "baseline": "middle", "dx": 2, "dy": -28.7, "font": "Liberation Serif", "fontSize": 25, "lineHeight": 28.7, "lineBreak": "\n", "color": "#000000"},
 "encoding": {"x": {"field": "xi", "type": "quantitative", "axis": null}, "y": {"field": "yi", "type": "quantitative", "axis": null}, "text": {"field": "t", "type": "nominal"}}},
{"data": {"name": "texts"},
 "transform": [{"filter": "datum.yi != 18 && datum.xi == 3 && length(split(datum.t, '\\n')) == 2"}],
 "mark": {"type": "text", "align": "left", "baseline": "middle", "dx": 2, "dy": -14.35, "font": "Liberation Serif", "fontStyle": "italic", "fontSize": 25, "lineHeight": 28.7, "lineBreak": "\n", "color": "#000000"},
 "encoding": {"x": {"field": "xi", "type": "quantitative", "axis": null}, "y": {"field": "yi", "type": "quantitative", "axis": null}, "text": {"field": "t", "type": "nominal"}}},
{"data": {"name": "texts"},
 "transform": [{"filter": "datum.yi != 18 && datum.xi == 3 && length(split(datum.t, '\\n')) == 3"}],
 "mark": {"type": "text", "align": "left", "baseline": "middle", "dx": 2, "dy": -28.7, "font": "Liberation Serif", "fontStyle": "italic", "fontSize": 25, "lineHeight": 28.7, "lineBreak": "\n", "color": "#000000"},
 "encoding": {"x": {"field": "xi", "type": "quantitative", "axis": null}, "y": {"field": "yi", "type": "quantitative", "axis": null}, "text": {"field": "t", "type": "nominal"}}},
{"data": {"name": "texts"},
 "transform": [{"filter": "datum.yi == 18 && datum.xi != 3"}],
 "mark": {"type": "text", "align": "left", "baseline": "line-top", "dx": 2, "font": "Liberation Serif", "fontSize": 25, "lineHeight": 28.7, "lineBreak": "\n", "color": "#000000"},
 "encoding": {"x": {"field": "xi", "type": "quantitative", "axis": null}, "y": {"field": "yi", "type": "quantitative", "axis": null}, "text": {"field": "t", "type": "nominal"}}},
{"data": {"name": "texts"},
 "transform": [{"filter": "datum.yi == 18 && datum.xi == 3"}],
 "mark": {"type": "text", "align": "left", "baseline": "line-top", "dx": 2, "font": "Liberation Serif", "fontStyle": "italic", "fontSize": 25, "lineHeight": 28.7, "lineBreak": "\n", "color": "#000000"},
 "encoding": {"x": {"field": "xi", "type": "quantitative", "axis": null}, "y": {"field": "yi", "type": "quantitative", "axis": null}, "text": {"field": "t", "type": "nominal"}}}
]
},
{
"layer": [
{"data": {"name": "curves"},
 "mark": {"type": "line", "color": "#ffcccc", "strokeWidth": 1.2, "interpolate": "catmull-rom"},
 "encoding": {
  "x": {"field": "x", "type": "quantitative", "axis": null, "scale": {"domain": [0, 2101], "range": [0, 2101], "zero": false, "nice": false}},
  "y": {"field": "y", "type": "quantitative", "axis": null, "scale": {"domain": [0, 3028], "range": [0, 3028], "zero": false, "nice": false}},
  "detail": {"field": "g", "type": "nominal"},
  "order": {"value": null}}},
{"data": {"name": "curves"},
 "mark": {"type": "line", "color": "#ff0000", "strokeWidth": 1.8, "strokeDash": [1.5, 1.8], "interpolate": "catmull-rom"},
 "encoding": {
  "x": {"field": "x", "type": "quantitative", "axis": null},
  "y": {"field": "y", "type": "quantitative", "axis": null},
  "detail": {"field": "g", "type": "nominal"},
  "order": {"value": null}}},
{"data": {"name": "dots"},
 "transform": [{"filter": "datum.g != 'd2'"}],
 "mark": {"type": "point", "filled": true, "size": 10, "opacity": 1},
 "encoding": {
  "x": {"field": "x", "type": "quantitative", "axis": null},
  "y": {"field": "y", "type": "quantitative", "axis": null},
  "color": {"field": "g", "type": "nominal", "legend": null, "scale": {"domain": ["b0","b0p","b0s1","b0s2","b0s3","b1","b1s","b2m","b2b","b2s","b3","b3s1","b3s2","b4","b4s","b5","d0a","d0b","d1","d2","d3a","d3b","d4"], "range": ["#c95f6e","#a65fd0","#d4a65f","#d4a65f","#d45fcb","#5fc96f","#c45fd0","#c95fc3","#c9685a","#c9685a","#c75fc6","#5fc98b","#6a5fd0","#c75fc6","#5fc97b","#9b5fd0","#8e1f4f","#2f6db5","#5fcc1a","#5fcc1a","#1f9be0","#4fae10","#5fcc1a"]}}}},
{"data": {"name": "dots"},
 "transform": [{"filter": "datum.g == 'd2'"}],
 "mark": {"type": "point", "filled": false, "size": 16, "strokeWidth": 1.4, "opacity": 1},
 "encoding": {
  "x": {"field": "x", "type": "quantitative", "axis": null},
  "y": {"field": "y", "type": "quantitative", "axis": null},
  "color": {"field": "g", "type": "nominal", "legend": null}}},
{"data": {"name": "ribbons"},
 "transform": [{"filter": {"field": "g", "oneOf": ["k0","k2a"]}}],
 "mark": {"type": "line", "color": "#333333", "strokeWidth": 1.5, "interpolate": "catmull-rom"},
 "encoding": {
  "x": {"field": "x", "type": "quantitative", "axis": null},
  "y": {"field": "y", "type": "quantitative", "axis": null},
  "detail": {"field": "g", "type": "nominal"},
  "order": {"value": null}}},
{"data": {"name": "ribbons"},
 "transform": [{"filter": {"field": "g", "oneOf": ["b0","b1","b3","b4","b5"]}}],
 "mark": {"type": "line", "color": "#404040", "strokeWidth": 11, "strokeCap": "butt", "strokeJoin": "round", "interpolate": "catmull-rom"},
 "encoding": {
  "x": {"field": "x", "type": "quantitative", "axis": null},
  "y": {"field": "y", "type": "quantitative", "axis": null},
  "detail": {"field": "g", "type": "nominal"},
  "order": {"value": null}}},
{"data": {"name": "ribbons"},
 "transform": [{"filter": {"field": "g", "oneOf": ["b0","b1","b3","b4","b5"]}}],
 "mark": {"type": "line", "strokeWidth": 9, "strokeCap": "butt", "strokeJoin": "round", "opacity": 1, "interpolate": "catmull-rom"},
 "encoding": {
  "x": {"field": "x", "type": "quantitative", "axis": null},
  "y": {"field": "y", "type": "quantitative", "axis": null},
  "color": {"field": "g", "type": "nominal", "legend": null},
  "order": {"value": null}}},
{"data": {"name": "ribbons"},
 "transform": [{"filter": {"field": "g", "oneOf": ["b2m","b2b"]}}],
 "mark": {"type": "line", "color": "#404040", "strokeWidth": 14, "strokeCap": "butt", "strokeJoin": "round", "interpolate": "catmull-rom"},
 "encoding": {
  "x": {"field": "x", "type": "quantitative", "axis": null},
  "y": {"field": "y", "type": "quantitative", "axis": null},
  "detail": {"field": "g", "type": "nominal"},
  "order": {"value": null}}},
{"data": {"name": "ribbons"},
 "transform": [{"filter": {"field": "g", "oneOf": ["b2m","b2b"]}}],
 "mark": {"type": "line", "strokeWidth": 12, "strokeCap": "butt", "strokeJoin": "round", "opacity": 1, "interpolate": "catmull-rom"},
 "encoding": {
  "x": {"field": "x", "type": "quantitative", "axis": null},
  "y": {"field": "y", "type": "quantitative", "axis": null},
  "color": {"field": "g", "type": "nominal", "legend": null},
  "order": {"value": null}}},
{"data": {"name": "ribbons"},
 "transform": [{"filter": {"field": "g", "oneOf": ["b0p","b0s1","b0s2","b0s3"]}}],
 "mark": {"type": "line", "color": "#404040", "strokeWidth": 10, "strokeCap": "square"},
 "encoding": {
  "x": {"field": "x", "type": "quantitative", "axis": null},
  "y": {"field": "y", "type": "quantitative", "axis": null},
  "detail": {"field": "g", "type": "nominal"},
  "order": {"value": null}}},
{"data": {"name": "ribbons"},
 "transform": [{"filter": {"field": "g", "oneOf": ["b0p","b0s1","b0s2","b0s3"]}}],
 "mark": {"type": "line", "strokeWidth": 8, "strokeCap": "square", "opacity": 1},
 "encoding": {
  "x": {"field": "x", "type": "quantitative", "axis": null},
  "y": {"field": "y", "type": "quantitative", "axis": null},
  "color": {"field": "g", "type": "nominal", "legend": null},
  "order": {"value": null}}},
{"data": {"name": "ribbons"},
 "transform": [{"filter": {"field": "g", "oneOf": ["b1s","b3s1","b3s2","b4s"]}}],
 "mark": {"type": "line", "color": "#404040", "strokeWidth": 7.5, "strokeCap": "square"},
 "encoding": {
  "x": {"field": "x", "type": "quantitative", "axis": null},
  "y": {"field": "y", "type": "quantitative", "axis": null},
  "detail": {"field": "g", "type": "nominal"},
  "order": {"value": null}}},
{"data": {"name": "ribbons"},
 "transform": [{"filter": {"field": "g", "oneOf": ["b1s","b3s1","b3s2","b4s"]}}],
 "mark": {"type": "line", "strokeWidth": 5.5, "strokeCap": "square", "opacity": 1},
 "encoding": {
  "x": {"field": "x", "type": "quantitative", "axis": null},
  "y": {"field": "y", "type": "quantitative", "axis": null},
  "color": {"field": "g", "type": "nominal", "legend": null},
  "order": {"value": null}}},
{"data": {"name": "ribbons"},
 "transform": [{"filter": {"field": "g", "oneOf": ["b2s"]}}],
 "mark": {"type": "line", "color": "#404040", "strokeWidth": 13, "strokeCap": "square"},
 "encoding": {
  "x": {"field": "x", "type": "quantitative", "axis": null},
  "y": {"field": "y", "type": "quantitative", "axis": null},
  "detail": {"field": "g", "type": "nominal"},
  "order": {"value": null}}},
{"data": {"name": "ribbons"},
 "transform": [{"filter": {"field": "g", "oneOf": ["b2s"]}}],
 "mark": {"type": "line", "strokeWidth": 11, "strokeCap": "square", "opacity": 1},
 "encoding": {
  "x": {"field": "x", "type": "quantitative", "axis": null},
  "y": {"field": "y", "type": "quantitative", "axis": null},
  "color": {"field": "g", "type": "nominal", "legend": null},
  "order": {"value": null}}}
]
}
],
"resolve": {"scale": {"x": "independent", "y": "independent"}}
}
